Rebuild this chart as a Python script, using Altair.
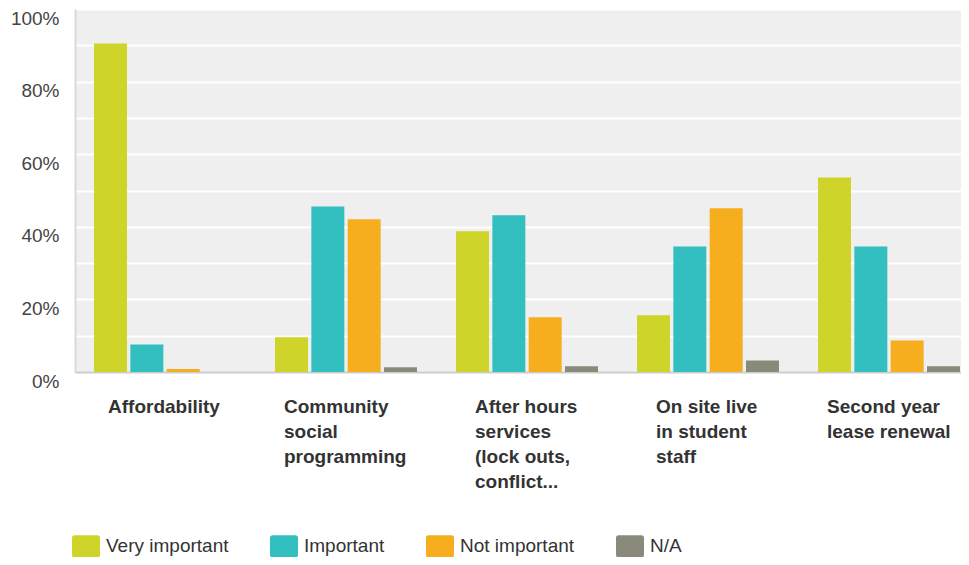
import json
import altair as alt
import pandas as pd

categories = [
    "Affordability",
    "Community social programming",
    "After hours services (lock outs, conflict...",
    "On site live in student staff",
    "Second year lease renewal",
]
label_lines = [
    ["Affordability"],
    ["Community", "social", "programming"],
    ["After hours", "services", "(lock outs,", "conflict..."],
    ["On site live", "in student", "staff"],
    ["Second year", "lease renewal"],
]
# shift of each wrapped label block from its band centre
label_shift = [-57, -62, -52, -52, -62]
series = ["Very important", "Important", "Not important", "N/A"]
very_important = [90.5, 9.6, 38.8, 15.6, 53.6]
important = [7.6, 45.6, 43.2, 34.6, 34.6]
not_important = [0.8, 42.1, 15.1, 45.1, 8.7]
not_applicable = [0.0, 1.3, 1.6, 3.2, 1.6]
colors = ["#cfd42a", "#33bec0", "#f6ae1e", "#8a8a7a"]
y_ticks = [0, 10, 20, 30, 40, 50, 60, 70, 80, 90, 100]

values_by_series = [very_important, important, not_important, not_applicable]
rows = []
for s, vals in zip(series, values_by_series):
    for c, v in zip(categories, vals):
        rows.append({"category": c, "series": s, "value": v})
df = pd.DataFrame(rows)

# label expression: map each category to its wrapped lines
expr = "datum.value"
for c, lines in reversed(list(zip(categories, label_lines))):
    expr = f"datum.value == {json.dumps(c)} ? {json.dumps(lines)} : ({expr})"

offset_cond = {
    "condition": [
        {"test": f"datum.value == {json.dumps(c)}", "value": s}
        for c, s in zip(categories, label_shift)
    ],
    "value": -57,
}

legend_symbol = ("M-0.8,-0.8 H0.8 Q1,-0.8 1,-0.6 V0.6 Q1,0.8 0.8,0.8 "
                 "H-0.8 Q-1,0.8 -1,0.6 V-0.6 Q-1,-0.8 -0.8,-0.8 Z")

font = "Liberation Sans"

chart = alt.Chart(df).mark_bar().encode(
    x=alt.X(
        "category:N",
        sort=categories,
        scale=alt.Scale(paddingInner=0.2155, paddingOuter=0.0553, align=0.95),
        axis=alt.Axis(
            title=None,
            labelAngle=0,
            labelAlign="left",
            labelOffset=offset_cond,
            labelBaseline="top",
            labelPadding=25,
            labelFontWeight="bold",
            labelFontSize=19,
            labelLineHeight=25,
            labelColor="#333333",
            labelExpr=expr,
            labelOverlap=False,
            labelLimit=0,
            domainColor="#cccccc",
            domainWidth=2,
            ticks=False,
        ),
    ),
    xOffset=alt.XOffset(
        "series:N", sort=series,
        scale=alt.Scale(paddingInner=0.0917, paddingOuter=0),
    ),
    y=alt.Y(
        "value:Q",
        scale=alt.Scale(domain=[0, 100], nice=False),
        axis=alt.Axis(
            title=None,
            values=y_ticks,
            labelExpr="datum.value % 20 == 0 ? datum.value + '%' : ''",
            ticks=False,
            grid=True,
            gridColor="#ffffff",
            gridWidth=2,
            gridOpacity=1,
            domainColor="#dadada",
            domainWidth=2,
            labelPadding=16,
            labelFontSize=19,
            labelColor="#444444",
            labelOffset=9,
            labelBaseline="middle",
            labelOverlap=False,
        ),
    ),
    color=alt.Color(
        "series:N",
        sort=series,
        scale=alt.Scale(domain=series, range=colors),
        legend=alt.Legend(
            title=None,
            orient="none",
            legendX=-3,
            legendY=523,
            direction="horizontal",
            columns=4,
            columnPadding=41,
            symbolType=legend_symbol,
            symbolSize=784,
            symbolStrokeWidth=0,
            labelFontSize=19,
            labelColor="#333333",
            labelOffset=6,
            padding=0,
        ),
    ),
).properties(
    width=886,
    height=363,
    padding={"left": 67, "top": 1, "right": 0, "bottom": 185},
    autosize=alt.AutoSizeParams(type="none"),
).configure_view(
    fill="#efefef", stroke=None
).configure_axis(
    labelFont=font
).configure_legend(
    labelFont=font
)

chart.save("out.html", embed_options={"renderer": "svg", "actions": False})
